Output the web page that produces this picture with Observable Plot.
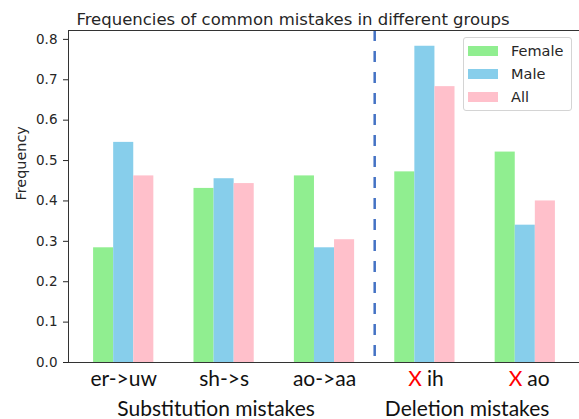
<!DOCTYPE html>
<html>
<head>
<meta charset="utf-8">
<script src="https://cdn.jsdelivr.net/npm/d3@7"></script>
<script src="https://cdn.jsdelivr.net/npm/@observablehq/plot@0.6"></script>
<style>
  body { margin: 0; background: #fff; }
  #wrap { position: relative; width: 579px; height: 419px; overflow: hidden; }
  .legend { position: absolute; left: 463px; top: 37px; width: 109px; height: 74px;
    border: 1px solid #d4d4d4; border-radius: 3px; background: rgba(255,255,255,0.85);
    box-sizing: border-box; font-family: "DejaVu Sans"; font-size: 14.5px; color: #262626; }
  .legend .row { position: absolute; left: 4px; height: 16px; display: flex; align-items: center; }
  .legend .sw { width: 30px; height: 10px; margin-right: 13px; }
</style>
</head>
<body>
<div id="wrap"></div>
<script>
const title = "Frequencies of common mistakes in different groups";
const yLabel = "Frequency";
const categories = ["er->uw", "sh->s", "ao->aa", "X ih", "X ao"];
const categoryKind = ["Substitution", "Substitution", "Substitution", "Deletion", "Deletion"];
const groupKinds = ["Substitution", "Deletion"];
const groupLabels = ["Substitution mistakes", "Deletion mistakes"];
const series = ["Female", "Male", "All"];
const colors = ["#90ee90", "#87ceeb", "#ffc0cb"];
const female = [0.284, 0.431, 0.462, 0.472, 0.521];
const male = [0.545, 0.455, 0.284, 0.783, 0.340];
const all = [0.462, 0.443, 0.304, 0.683, 0.400];
const yTicks = [0, 0.1, 0.2, 0.3, 0.4, 0.5, 0.6, 0.7, 0.8];

const seriesValues = [female, male, all];
const barW = 0.2;
const rows = [];
categories.forEach((c, i) => {
  series.forEach((s, k) => {
    const x1 = i + (k - 1) * barW - barW / 2;
    rows.push({category: c, series: s, x1, x2: x1 + barW, value: seriesValues[k][i]});
  });
});

const labelRows = categories.map((c, i) => {
  const marked = c.startsWith("X ");
  return {i, marked, name: marked ? c.slice(2) : c};
});
const groupRows = groupKinds.map((g, j) => {
  const idx = categoryKind.map((k, i) => k === g ? i : null).filter(d => d !== null);
  return {label: groupLabels[j], x: d3.mean(idx)};
});
const lastSub = d3.max(categoryKind.map((k, i) => k === "Substitution" ? i : -1));
const firstDel = d3.min(categoryKind.map((k, i) => k === "Deletion" ? i : Infinity));
const sepX = (lastSub + firstDel) / 2;

const labelFont = "Lato, 'Open Sans', sans-serif";

const plot = Plot.plot({
  width: 579, height: 419,
  marginLeft: 68, marginRight: 0, marginTop: 30, marginBottom: 57,
  style: {fontFamily: "DejaVu Sans", fontSize: "13.5px", color: "#262626", background: "white", overflow: "visible"},
  x: {domain: [-0.55, 4.54], axis: null},
  y: {domain: [0, 0.822], axis: null},
  color: {domain: series, range: colors},
  marks: [
    Plot.rect(rows, {x1: "x1", x2: "x2", y1: 0, y2: "value", fill: "series"}),
    Plot.ruleX([sepX], {stroke: "#4472c4", strokeWidth: 2.5, strokeDasharray: "11,10"}),
    Plot.axisY({ticks: yTicks, tickFormat: ".1f", tickSize: 5, tickPadding: 6, label: null, fontSize: 13.5}),
    Plot.frame({anchor: "left", stroke: "#333"}),
    Plot.frame({anchor: "top", stroke: "#333"}),
    Plot.frame({anchor: "bottom", stroke: "#333"}),
    Plot.text([yLabel], {frameAnchor: "left", rotate: -90, dx: -47, dy: 4, fontSize: 14.4, fill: "#262626"}),
    Plot.text([title], {frameAnchor: "top", dx: -31, dy: -17, fontSize: 16.5, fill: "#262626"}),
    Plot.text(labelRows.filter(d => !d.marked), {x: "i", text: "name", frameAnchor: "bottom", dy: 23, fontSize: 21, fontFamily: labelFont, fill: "#111"}),
    Plot.text(labelRows.filter(d => d.marked), {x: "i", text: () => "X", frameAnchor: "bottom", dy: 23, dx: -3, textAnchor: "end", fontSize: 21, fontFamily: labelFont, fill: "#ff0000"}),
    Plot.text(labelRows.filter(d => d.marked), {x: "i", text: "name", frameAnchor: "bottom", dy: 23, dx: 2, textAnchor: "start", fontSize: 21, fontFamily: labelFont, fill: "#111"}),
    Plot.text(groupRows, {x: "x", text: "label", frameAnchor: "bottom", dy: 53, dx: -8, fontSize: 21, fontFamily: labelFont, fill: "#111"})
  ]
});

const wrap = document.getElementById("wrap");
wrap.appendChild(plot);

const legend = document.createElement("div");
legend.className = "legend";
const rowTops = [5, 28, 51];
series.forEach((s, k) => {
  const r = document.createElement("div");
  r.className = "row";
  r.style.top = rowTops[k] + "px";
  const sw = document.createElement("div");
  sw.className = "sw";
  sw.style.background = colors[k];
  const t = document.createElement("span");
  t.textContent = s;
  r.appendChild(sw); r.appendChild(t);
  legend.appendChild(r);
});
wrap.appendChild(legend);
</script>
</body>
</html>
